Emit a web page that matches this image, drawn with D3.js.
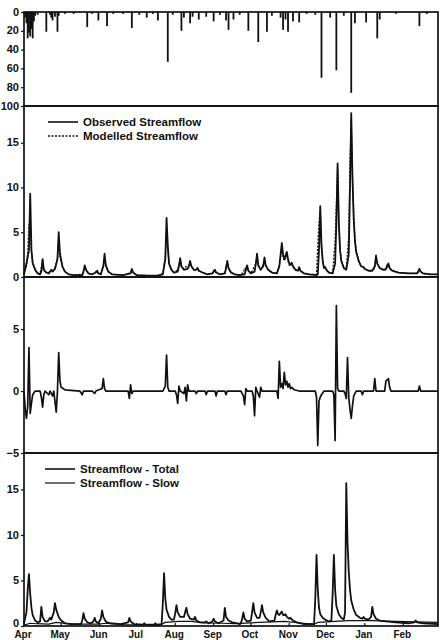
<!DOCTYPE html>
<html><head><meta charset="utf-8">
<script src="https://cdn.jsdelivr.net/npm/d3@7"></script>
<style>body{margin:0;background:#fff}svg{display:block}</style>
</head><body><svg id="c" width="440" height="640"></svg>
<script>
// ---------- data ----------
const startDate = new Date(1990, 3, 1);
const endDate = new Date(1991, 2, 1);
const monthLabels = ["Apr","May","Jun","Jul","Aug","Sep","Oct","Nov","Dec","Jan","Feb"];
const rainTicks = [0, 20, 40, 60, 80, 100];
const flowTicks = [0, 5, 10, 15];
const residualTicks = [-5, 0, 5];

// [day since 1 Apr, mm]
const rainfall = [[1,6],[2,12],[3,28],[4,22],[5,26],[6,18],[7,28],[8,10],[9,4],[11,3],[18,21],[21,3],[22,6],[23,9],[25,5],[27,21],[28,4],[33,2],[40,2],[51,16],[55,2],[60,9],[67,15],[72,2],[80,2],[87,17],[93,3],[99,6],[104,2],[108,9],[116,53],[120,3],[127,20],[129,6],[134,12],[136,5],[141,8],[147,5],[153,10],[158,3],[163,9],[165,19],[169,8],[174,3],[181,20],[189,32],[196,21],[200,4],[207,6],[209,19],[211,8],[213,21],[217,10],[222,11],[228,2],[235,3],[240,70],[247,6],[252,62],[258,4],[264,86],[267,12],[276,11],[285,28],[287,8],[300,2],[319,15],[325,2]];

const observedFlow = [[0,0.3],[2,1.5],[4,3.0],[5,9.3],[6,3.0],[7,1.6],[9,0.8],[11,0.4],[13,0.3],[14,0.6],[15,2.0],[16,0.8],[18,0.5],[20,0.4],[22,0.8],[23,0.6],[25,0.9],[27,2.0],[28,5.0],[29,2.6],[31,1.2],[33,0.6],[36,0.3],[40,0.2],[47,0.2],[48,0.6],[49,1.3],[50,0.8],[52,0.4],[55,0.3],[58,0.5],[59,0.7],[60,0.4],[62,0.3],[64,1.2],[65,2.6],[66,1.3],[68,0.6],[71,0.3],[80,0.2],[86,0.4],[87,0.9],[88,0.5],[91,0.2],[100,0.15],[108,0.15],[112,0.3],[114,2.0],[115,6.6],[116,3.5],[117,1.5],[119,0.8],[121,0.5],[124,0.6],[125,1.2],[126,2.1],[127,1.2],[129,0.8],[132,0.9],[133,1.2],[134,1.8],[135,1.2],[137,0.8],[139,0.8],[140,1.0],[141,0.7],[144,0.5],[148,0.3],[152,0.4],[153,0.6],[154,0.8],[155,0.5],[158,0.3],[162,0.4],[163,1.0],[164,1.8],[165,1.0],[167,0.5],[170,0.3],[174,0.2],[178,0.3],[179,0.8],[180,1.3],[181,0.7],[183,0.4],[186,0.6],[187,1.4],[188,2.6],[189,1.3],[191,0.8],[193,1.2],[194,2.2],[195,1.3],[197,0.8],[200,0.5],[204,0.4],[206,1.2],[207,2.5],[208,3.8],[209,2.5],[210,2.0],[211,2.4],[212,2.8],[213,2.0],[214,1.5],[215,1.4],[216,1.6],[217,1.2],[219,0.8],[221,0.7],[222,1.1],[223,0.7],[226,0.4],[230,0.3],[236,0.2],[237,0.3],[238,3.0],[239,7.9],[240,3.5],[241,1.8],[242,1.0],[243,1.1],[244,0.8],[246,0.5],[249,0.4],[251,1.5],[252,6.0],[253,12.7],[254,6.0],[255,3.0],[256,1.8],[258,1.0],[260,0.8],[262,2.5],[263,10.0],[264,18.3],[265,11.0],[266,6.5],[267,4.0],[268,2.8],[270,1.8],[272,1.2],[274,1.1],[275,0.9],[278,0.7],[281,0.7],[283,1.2],[284,2.4],[285,1.5],[287,1.0],[290,0.8],[292,0.9],[293,1.3],[294,1.5],[295,1.0],[297,0.7],[302,0.5],[310,0.4],[317,0.4],[318,0.6],[319,0.9],[320,0.6],[322,0.4],[328,0.3],[334,0.3]];

const modelledFlow = [[0,0.3],[2,1.3],[3,2.8],[4,5.8],[5,6.5],[6,2.8],[7,1.5],[9,0.8],[11,0.4],[13,0.4],[14,1.1],[15,1.9],[16,0.8],[18,0.5],[20,0.5],[22,0.8],[23,0.6],[25,1.0],[27,2.2],[28,4.0],[29,2.3],[31,1.1],[33,0.6],[36,0.3],[40,0.2],[47,0.3],[48,0.7],[49,1.2],[50,0.8],[52,0.4],[55,0.3],[58,0.6],[59,0.7],[60,0.4],[62,0.4],[64,1.2],[65,2.0],[66,1.2],[68,0.6],[71,0.3],[80,0.2],[86,0.5],[87,0.8],[88,0.5],[91,0.2],[100,0.15],[108,0.15],[112,0.4],[114,2.3],[115,5.0],[116,3.3],[117,1.6],[119,0.8],[121,0.5],[124,0.8],[125,1.4],[126,1.9],[127,1.2],[129,0.9],[131,1.2],[132,1.0],[133,1.2],[134,1.6],[135,1.2],[137,0.8],[139,0.9],[140,1.0],[141,0.7],[144,0.5],[148,0.3],[152,0.4],[153,0.7],[154,0.8],[155,0.5],[158,0.3],[162,0.4],[163,1.1],[164,1.7],[165,1.0],[167,0.5],[170,0.3],[174,0.2],[177,0.5],[178,1.0],[179,0.9],[180,1.2],[181,0.7],[183,0.4],[186,1.2],[187,1.5],[188,2.4],[189,1.3],[191,0.9],[193,1.4],[194,2.0],[195,1.3],[197,0.8],[200,0.5],[204,0.4],[205,0.9],[206,1.3],[207,2.2],[208,3.3],[209,2.3],[210,1.8],[211,2.1],[212,2.4],[213,1.8],[214,1.3],[215,1.3],[216,1.4],[217,1.1],[219,0.8],[221,0.7],[222,1.0],[223,0.7],[226,0.4],[230,0.3],[236,0.3],[237,3.5],[238,6.0],[239,7.4],[240,3.6],[241,1.8],[242,1.0],[243,1.1],[244,0.8],[246,0.5],[249,0.5],[251,4.0],[252,8.0],[253,12.0],[254,6.0],[255,3.0],[256,1.8],[258,1.0],[260,1.0],[262,4.5],[263,12.5],[264,17.5],[265,11.5],[266,6.8],[267,4.2],[268,2.9],[270,1.8],[272,1.2],[274,1.1],[275,0.9],[278,0.7],[281,0.7],[283,1.0],[284,2.1],[285,1.5],[287,1.0],[290,0.8],[292,0.8],[293,1.1],[294,1.3],[295,1.0],[297,0.7],[302,0.5],[310,0.4],[317,0.4],[318,0.5],[319,0.8],[320,0.6],[322,0.4],[328,0.3],[334,0.3]];

const residualFlow = [[0,0],[1,-1.5],[2,-2.2],[3,-1.2],[4,3.5],[5,-1.8],[6,-1.0],[7,-0.3],[9,0],[13,0],[14,-0.5],[15,-1.3],[16,-0.3],[17,0],[20,-0.3],[21,0],[23,-0.4],[24,0],[26,-1.7],[27,0],[28,3.1],[29,0.8],[30,0.3],[33,0.1],[45,0],[47,-0.3],[48,0],[55,0],[57,-0.2],[58,0],[63,0.2],[64,1.0],[65,0.2],[66,0],[84,0],[85,-0.6],[86,0.5],[87,-0.2],[88,0],[112,0],[114,0.4],[115,2.9],[116,0.3],[117,0],[122,0],[123,-0.3],[124,-1.0],[125,0.4],[126,0],[129,-0.2],[130,0.3],[131,-0.8],[132,0.5],[133,0],[138,0],[139,-0.2],[140,0],[146,0],[147,-0.3],[148,0],[154,0],[155,-0.4],[156,0],[162,0],[163,-0.3],[164,0],[175,0],[177,-0.4],[178,-1.1],[179,0.2],[180,0],[184,0],[185,-0.4],[186,-2.0],[187,0.3],[188,0],[190,-0.5],[191,0.3],[192,0],[204,0],[205,-0.6],[206,2.4],[207,0.3],[208,0.6],[209,0.2],[210,1.5],[211,0.5],[212,0.8],[213,0.3],[214,0.6],[215,0.2],[216,0.3],[218,0.1],[222,0],[235,0],[236,-0.5],[237,-4.4],[238,-0.8],[239,-0.5],[240,-0.3],[242,0],[249,0],[250,-0.3],[251,-4.0],[252,6.9],[253,0.2],[254,0],[258,0],[259,-0.2],[260,-0.6],[261,2.7],[262,-0.5],[263,-1.5],[264,-2.2],[265,-1.2],[266,-0.4],[268,0],[272,0],[273,-0.3],[274,0],[282,0],[283,1.0],[284,0],[291,0],[292,0.8],[294,1.0],[295,0.3],[296,0],[318,0],[319,0.4],[320,0],[334,0]];

const totalFlow = [[0,0.3],[2,1.5],[3,4.0],[4,5.7],[5,3.5],[6,2.0],[7,1.2],[9,0.6],[11,0.4],[13,0.5],[14,2.1],[15,1.0],[17,0.5],[19,0.5],[21,0.9],[22,0.7],[24,1.5],[25,2.5],[26,1.8],[28,1.0],[30,0.6],[33,0.3],[38,0.2],[46,0.2],[47,0.6],[48,1.4],[49,0.8],[51,0.4],[54,0.3],[56,0.5],[57,0.9],[58,0.5],[60,0.3],[62,0.8],[63,1.7],[64,1.0],[66,0.5],[69,0.3],[78,0.2],[84,0.4],[85,0.9],[86,0.5],[89,0.2],[96,0.15],[97,0.3],[98,0.15],[105,0.15],[106,0.3],[107,0.15],[111,0.2],[112,2.5],[113,5.8],[114,3.0],[115,1.8],[117,1.0],[119,0.7],[121,0.7],[122,1.4],[123,2.3],[124,1.5],[126,1.0],[129,1.0],[130,1.5],[131,2.0],[132,1.3],[134,0.8],[137,0.7],[138,1.0],[139,0.6],[142,0.4],[146,0.4],[147,0.5],[149,0.3],[152,0.5],[153,0.8],[154,0.5],[157,0.3],[161,0.6],[162,2.0],[163,1.0],[165,0.6],[168,0.4],[172,0.3],[174,0.2],[175,0.3],[176,0.8],[177,1.5],[178,0.8],[180,0.5],[183,0.6],[184,1.5],[185,2.5],[186,1.5],[188,0.9],[190,0.9],[191,1.5],[192,2.3],[193,1.5],[195,0.9],[198,0.5],[202,0.6],[203,1.2],[204,1.7],[205,1.3],[206,1.2],[207,1.4],[208,1.6],[209,1.2],[210,1.2],[211,1.3],[212,1.0],[214,0.8],[215,0.9],[217,0.6],[220,0.4],[226,0.2],[234,0.2],[235,3.0],[236,7.8],[237,4.0],[238,2.0],[239,1.3],[241,0.9],[243,0.7],[246,0.5],[248,0.6],[249,3.5],[250,7.8],[251,4.0],[252,2.2],[254,1.3],[256,0.9],[258,0.7],[259,1.5],[260,15.7],[261,9.2],[262,6.0],[263,4.0],[264,2.8],[266,1.8],[268,1.2],[271,0.9],[273,0.8],[274,1.0],[275,0.8],[278,0.7],[280,1.0],[281,2.1],[282,1.3],[284,0.8],[287,0.6],[292,0.5],[300,0.4],[310,0.3],[315,0.4],[316,0.6],[317,0.4],[322,0.3],[334,0.2]];

const slowFlow = [[0,0.1],[5,0.3],[10,0.25],[20,0.2],[26,0.4],[30,0.35],[40,0.2],[60,0.2],[66,0.3],[80,0.15],[110,0.1],[114,0.4],[125,0.5],[135,0.5],[145,0.35],[160,0.3],[170,0.25],[190,0.4],[210,0.5],[225,0.3],[234,0.2],[237,0.4],[251,0.5],[262,0.6],[280,0.6],[300,0.5],[334,0.4]];

// ---------- layout ----------
const svg = d3.select("#c");
const L = 24, R = 438;
const panels = {
  rain: {top: 12, bottom: 106},
  flow: {top: 106, bottom: 277},
  resid: {top: 277, bottom: 453},
  comp: {top: 453, bottom: 626}
};
const FONT = "'Liberation Sans', Arial, sans-serif";

const x = d3.scaleTime().domain([startDate, endDate]).range([L, R]);
const toDate = d => d3.timeDay.offset(startDate, d);

const yRain = d3.scaleLinear().domain([0, 100]).range([panels.rain.top, panels.rain.bottom]);
const yFlow = d3.scaleLinear().domain([0, 19.1]).range([panels.flow.bottom, panels.flow.top]);
const yResid = d3.scaleLinear().domain([-5, 9.2]).range([panels.resid.bottom, panels.resid.top]);
const yComp = d3.scaleLinear().domain([0, 19.0]).range([panels.comp.bottom, panels.comp.top]);

// rainfall bars
svg.append("g").selectAll("rect").data(rainfall).join("rect")
  .attr("x", d => x(toDate(d[0])) - 0.9)
  .attr("width", 1.8)
  .attr("y", yRain(0))
  .attr("height", d => yRain(d[1]) - yRain(0))
  .attr("fill", "#111");

function drawLine(data, y, opts) {
  const line = d3.line().x(d => x(toDate(d[0]))).y(d => y(d[1]));
  svg.append("path").datum(data)
    .attr("d", line)
    .attr("fill", "none")
    .attr("stroke", "#111")
    .attr("stroke-width", opts.w || 1.6)
    .attr("stroke-linejoin", "round")
    .attr("stroke-dasharray", opts.dash || null);
}

drawLine(observedFlow, yFlow, {w: 1.8});
drawLine(modelledFlow, yFlow, {w: 1.3, dash: "2,1.5"});
drawLine(residualFlow, yResid, {w: 1.7});
drawLine(slowFlow, yComp, {w: 1.2});
drawLine(totalFlow, yComp, {w: 1.8});

// frames
Object.values(panels).forEach(p => {
  svg.append("rect").attr("x", L).attr("y", p.top)
    .attr("width", R - L).attr("height", p.bottom - p.top)
    .attr("fill", "none").attr("stroke", "#111").attr("stroke-width", 1.7);
});

// axes
function yAxis(scale, ticks, minor) {
  const g = svg.append("g").attr("transform", `translate(${L},0)`);
  g.call(d3.axisLeft(scale).tickValues(minor).tickSize(2).tickFormat(""));
  g.call(d3.axisLeft(scale).tickValues(ticks).tickSize(3).tickPadding(2).tickFormat(d3.format("d")));
  g.selectAll(".domain").remove();
  g.selectAll("line").attr("stroke", "#111").attr("stroke-width", 1.2);
  g.selectAll("text").attr("font-family", FONT).attr("font-weight", "bold")
    .attr("font-size", "11px").attr("fill", "#111").attr("dy", "0.28em");
  return g;
}
yAxis(yRain, rainTicks, d3.range(0, 101, 10));
yAxis(yFlow, flowTicks, d3.range(0, 19, 2.5));
yAxis(yResid, residualTicks, d3.range(-5, 9.1, 1));
const compAxis = yAxis(yComp, flowTicks, d3.range(0, 19, 2.5));
// bottom-most "0" sits a touch higher so it clears the month labels
compAxis.selectAll(".tick text").filter(d => d === 0).attr("dy", "0em");

// month labels
const months = d3.timeMonth.range(startDate, endDate);
svg.append("g").selectAll("text").data(months).join("text")
  .attr("x", d => x(d) - 1)
  .attr("y", 637.8)
  .attr("text-anchor", "middle")
  .attr("font-family", FONT).attr("font-weight", "bold").attr("font-size", "10px")
  .attr("fill", "#111")
  .text((d, i) => monthLabels[i]);
svg.append("g").selectAll("line").data(months).join("line")
  .attr("x1", d => x(d)).attr("x2", d => x(d))
  .attr("y1", panels.comp.bottom).attr("y2", panels.comp.bottom - 3)
  .attr("stroke", "#111").attr("stroke-width", 1.2);

// legends
function legend(x0, y0, items) {
  items.forEach((it, i) => {
    const yy = y0 + i * 14;
    svg.append("line").attr("x1", x0).attr("x2", x0 + 30).attr("y1", yy).attr("y2", yy)
      .attr("stroke", "#111").attr("stroke-width", it.w).attr("stroke-dasharray", it.dash || null);
    svg.append("text").attr("x", x0 + 35).attr("y", yy + 4)
      .attr("font-family", FONT).attr("font-weight", "bold").attr("font-size", "11.5px")
      .attr("fill", "#111").text(it.label);
  });
}
legend(48, 122, [{label: "Observed Streamflow", w: 1.6}, {label: "Modelled Streamflow", w: 1.4, dash: "2,1.5"}]);
legend(45, 469, [{label: "Streamflow - Total", w: 1.6}, {label: "Streamflow - Slow", w: 1.2}]);
</script></body></html>
